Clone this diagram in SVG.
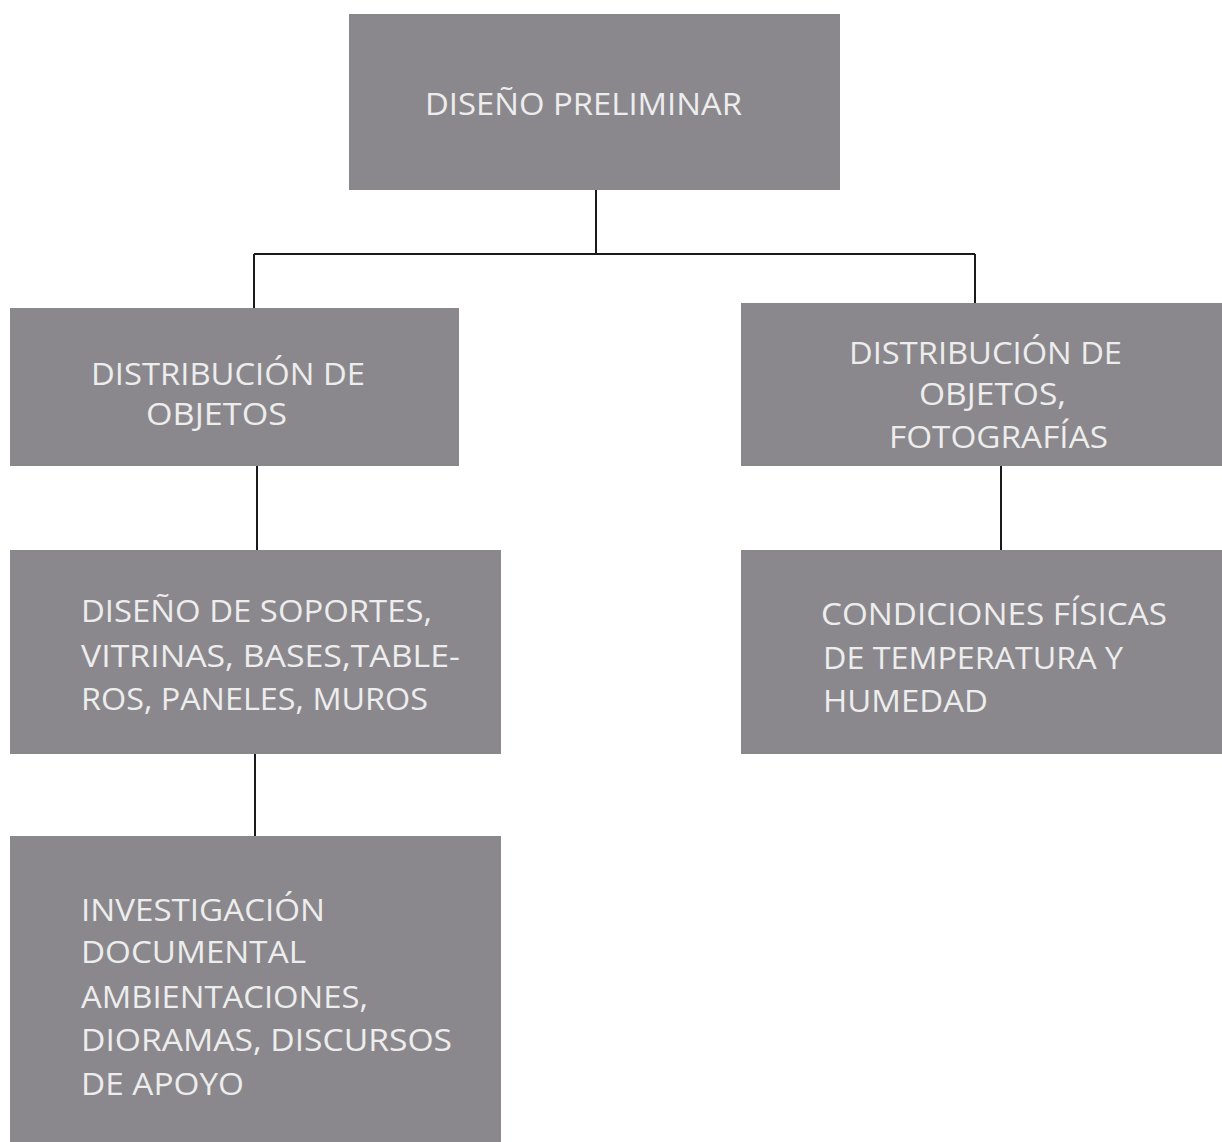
<svg xmlns="http://www.w3.org/2000/svg" width="1222" height="1142" viewBox="0 0 1222 1142">
<style>
.box{fill:#8a888c;}
.t{font-family:"Open Sans","Liberation Sans",sans-serif;font-size:31px;fill:#ededed;}
.c{stroke:#1a1a1a;stroke-width:2;fill:none;}
</style>
<rect width="1222" height="1142" fill="#ffffff"/>
<g id="connectors">
<path class="c" d="M596,190 V254 M254,254 H975 M254,254 V308 M975,254 V303"/>
<path class="c" d="M257,466 V550"/>
<path class="c" d="M1001,466 V550"/>
<path class="c" d="M255,754 V836"/>
</g>
<g id="n_top">
<rect class="box" x="349" y="14" width="491" height="176"/>
<text class="t" x="425" y="115" textLength="317" lengthAdjust="spacingAndGlyphs">DISEÑO PRELIMINAR</text>
</g>
<g id="n_left1">
<rect class="box" x="10" y="308" width="449" height="158"/>
<text class="t" x="91" y="385" textLength="274" lengthAdjust="spacingAndGlyphs">DISTRIBUCIÓN DE</text>
<text class="t" x="146" y="425" textLength="141" lengthAdjust="spacingAndGlyphs">OBJETOS</text>
</g>
<g id="n_right1">
<rect class="box" x="741" y="303" width="481" height="163"/>
<text class="t" x="849" y="364" textLength="273" lengthAdjust="spacingAndGlyphs">DISTRIBUCIÓN DE</text>
<text class="t" x="919" y="405" textLength="147" lengthAdjust="spacingAndGlyphs">OBJETOS,</text>
<text class="t" x="889" y="448" textLength="219" lengthAdjust="spacingAndGlyphs">FOTOGRAFÍAS</text>
</g>
<g id="n_left2">
<rect class="box" x="10" y="550" width="491" height="204"/>
<text class="t" x="81" y="622" textLength="351" lengthAdjust="spacingAndGlyphs">DISEÑO DE SOPORTES,</text>
<text class="t" x="81" y="667" textLength="379" lengthAdjust="spacingAndGlyphs">VITRINAS, BASES,TABLE-</text>
<text class="t" x="81" y="710" textLength="347" lengthAdjust="spacingAndGlyphs">ROS, PANELES, MUROS</text>
</g>
<g id="n_right2">
<rect class="box" x="741" y="550" width="481" height="204"/>
<text class="t" x="821" y="625" textLength="346" lengthAdjust="spacingAndGlyphs">CONDICIONES FÍSICAS</text>
<text class="t" x="823" y="669" textLength="300" lengthAdjust="spacingAndGlyphs">DE TEMPERATURA Y</text>
<text class="t" x="823" y="712" textLength="165" lengthAdjust="spacingAndGlyphs">HUMEDAD</text>
</g>
<g id="n_left3">
<rect class="box" x="10" y="836" width="491" height="306"/>
<text class="t" x="81" y="921" textLength="244" lengthAdjust="spacingAndGlyphs">INVESTIGACIÓN</text>
<text class="t" x="81" y="963" textLength="225" lengthAdjust="spacingAndGlyphs">DOCUMENTAL</text>
<text class="t" x="81" y="1008" textLength="287" lengthAdjust="spacingAndGlyphs">AMBIENTACIONES,</text>
<text class="t" x="81" y="1051" textLength="371" lengthAdjust="spacingAndGlyphs">DIORAMAS, DISCURSOS</text>
<text class="t" x="81" y="1095" textLength="163" lengthAdjust="spacingAndGlyphs">DE APOYO</text>
</g>
</svg>
